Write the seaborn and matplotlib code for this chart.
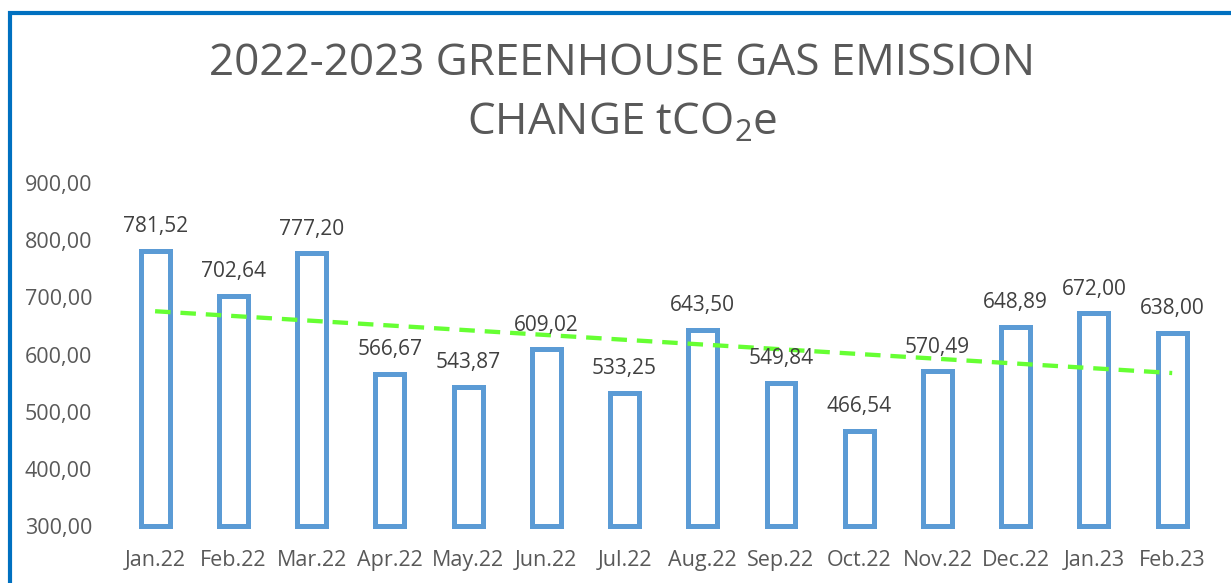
import numpy as np
import pandas as pd
import seaborn as sns
import matplotlib.pyplot as plt
import matplotlib.patches as mpatches

months = ['Jan.22', 'Feb.22', 'Mar.22', 'Apr.22', 'May.22', 'Jun.22', 'Jul.22',
          'Aug.22', 'Sep.22', 'Oct.22', 'Nov.22', 'Dec.22', 'Jan.23', 'Feb.23']
emissions = [781.52, 702.64, 777.20, 566.67, 543.87, 609.02, 533.25,
             643.50, 549.84, 466.54, 570.49, 648.89, 672.00, 638.00]
y_ticks = [300, 400, 500, 600, 700, 800, 900]
title = '2022-2023 GREENHOUSE GAS EMISSION\nCHANGE tCO$_2$e'

df = pd.DataFrame({'month': months, 'value': emissions, 'idx': range(len(months))})

sns.set_style('white')
plt.rcParams['font.family'] = ['Open Sans', 'DejaVu Sans']
plt.rcParams['mathtext.fontset'] = 'custom'
plt.rcParams['mathtext.rm'] = 'Open Sans'

fig = plt.figure(figsize=(12.31, 5.83), dpi=100)
ax = fig.add_axes([0.0942, 0.0978, 0.8898, 0.5882])

bar_blue = '#5B9BD5'
sns.barplot(data=df, x='month', y='value', color='white', edgecolor=bar_blue,
            linewidth=3.6, width=0.37, ax=ax, zorder=2)
base = y_ticks[0]
for p in ax.patches:
    top = p.get_y() + p.get_height()
    p.set_y(base)
    p.set_height(top - base)
    p.set_clip_on(False)

# linear trend line
sns.regplot(data=df, x='idx', y='value', scatter=False, ci=None, ax=ax,
            line_kws={'color': '#66FF33', 'lw': 3.1, 'ls': (0, (3.6, 2.3)),
                      'zorder': 3})

for i, v in enumerate(emissions):
    ax.text(i, v + 24, f'{v:.2f}'.replace('.', ','), ha='center', va='bottom',
            fontsize=15, color='#404040', zorder=4)

ax.set_ylim(300, 900)
ax.set_xlim(-0.5, len(months) - 0.5)
ax.set_yticks(y_ticks)
ax.set_yticklabels([f'{t:.2f}'.replace('.', ',') for t in y_ticks])
ax.tick_params(axis='both', length=0, labelsize=15.5, labelcolor='#595959')
ax.tick_params(axis='x', pad=17)
ax.tick_params(axis='y', pad=17)
ax.set_xlabel('')
ax.set_ylabel('')
sns.despine(ax=ax, left=True, bottom=True)

fig.text(0.505, 0.928, title, ha='center', va='top', fontsize=31.7,
         color='#595959', linespacing=1.45)

border = mpatches.Rectangle((9.5 / 1231, -0.1), 1.2, 1 - 13 / 583 + 0.1,
                            transform=fig.transFigure, fill=False,
                            edgecolor='#0070C0', linewidth=3, clip_on=False)
fig.patches.append(border)

plt.savefig('out.png', dpi=100)
